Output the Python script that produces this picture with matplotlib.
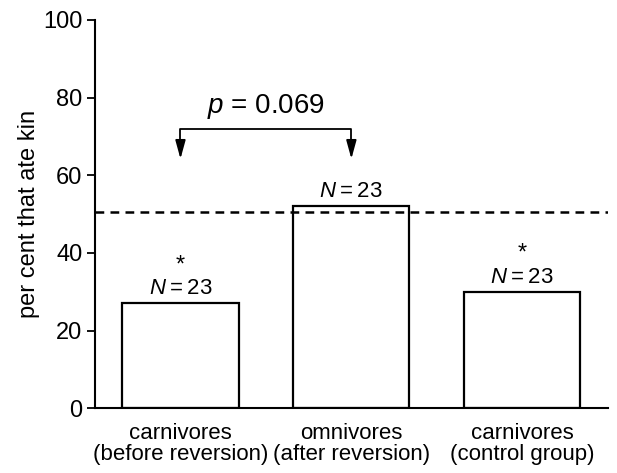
import matplotlib.pyplot as plt

plt.rcParams['font.family'] = ['Liberation Sans', 'DejaVu Sans']
plt.rcParams['mathtext.fontset'] = 'custom'
plt.rcParams['mathtext.it'] = 'Liberation Sans:italic'

# data
categories = ['carnivores\n(before reversion)', 'omnivores\n(after reversion)', 'carnivores\n(control group)']
percent_ate_kin = [27, 52, 30]
sample_sizes = [23, 23, 23]
significant = [True, False, True]
chance_level = 50.5
p_value = 0.069

fig = plt.figure(figsize=(6.17, 4.73), dpi=100)
ax = fig.add_axes([0.154, 0.137, 0.831, 0.821])

x = range(len(categories))
ax.bar(x, percent_ate_kin, width=0.68, color='white', edgecolor='black', linewidth=1.6, zorder=2)

# dashed reference line
ax.axhline(chance_level, color='black', linestyle=(0, (3.5, 2.5)), linewidth=1.8, zorder=3)

# N labels and stars
for i, (v, n, s) in enumerate(zip(percent_ate_kin, sample_sizes, significant)):
    ax.text(i, v + 1.0, r'$N$' + f'\u2009=\u2009{n}', ha='center', va='bottom', fontsize=16,
            family=['Liberation Sans', 'DejaVu Sans'])
    if s:
        ax.text(i, v + 7.0, '*', ha='center', va='bottom', fontsize=17)

# bracket with arrows between first two bars
bracket_y = 72
tip_y = 63.5
ax.plot([0, 0, 1, 1], [tip_y + 3, bracket_y, bracket_y, tip_y + 3], color='black', linewidth=1.3)
for xi in (0, 1):
    ax.annotate('', xy=(xi, tip_y), xytext=(xi, tip_y + 5),
                arrowprops=dict(arrowstyle='-|>,head_length=0.8,head_width=0.22',
                                color='black', lw=1.3, mutation_scale=14))
ax.text(0.5, bracket_y + 2, f'$p$ = {p_value}', ha='center', va='bottom', fontsize=20)

ax.set_xlim(-0.5, 2.5)
ax.set_ylim(0, 100)
ax.set_yticks([0, 20, 40, 60, 80, 100])
ax.set_xticks(list(x))
ax.set_xticklabels(categories, fontsize=16, linespacing=1.0)
ax.tick_params(axis='y', labelsize=17, length=6, width=1.3, direction='out', pad=3)
ax.tick_params(axis='x', length=0, pad=11)
ax.set_ylabel('per cent that ate kin', fontsize=17, labelpad=2)

for side in ('top', 'right'):
    ax.spines[side].set_visible(False)
for side in ('left', 'bottom'):
    ax.spines[side].set_linewidth(1.5)

fig.savefig('out.png', dpi=100)
